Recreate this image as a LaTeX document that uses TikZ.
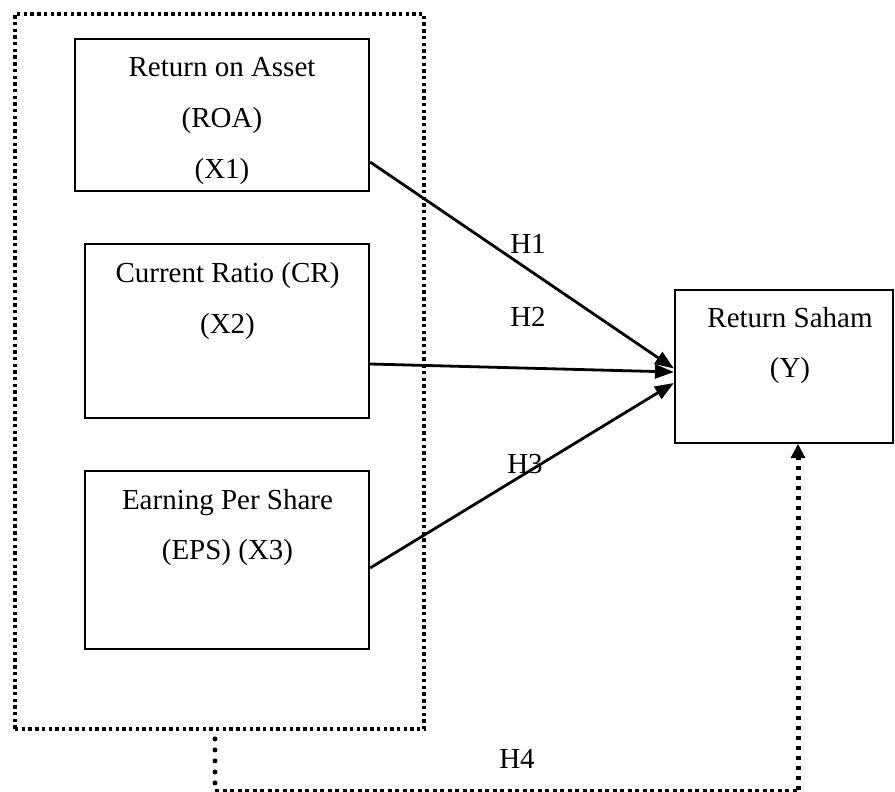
\documentclass[tikz,border=0pt]{standalone}
\usepackage{fontspec}
\setmainfont{Liberation Serif}
\usetikzlibrary{arrows.meta}
\begin{document}
\begin{tikzpicture}[x=1pt,y=-1pt,
  varbox/.style={draw=black,line width=2.2pt,inner sep=0pt,rectangle},
  lbl/.style={anchor=base,inner sep=0pt,font=\fontsize{29}{35}\selectfont},
  hyparrow/.style={line width=2.8pt,-{Triangle[length=19pt,width=14pt]}},
  groupbox/.style={draw=black,line width=3.8pt,dash pattern=on 3.4pt off 3.3pt,inner sep=0pt,rectangle},
  rounddots/.style={line width=5pt,line cap=round,dash pattern=on 0pt off 11pt},
  smalldash/.style={line width=3pt,dash pattern=on 4pt off 3.5pt},
  bigdots/.style={line width=5pt,dash pattern=on 4.5pt off 5.5pt,-{Triangle[length=14pt,width=15pt,line width=0pt]}}
]
\useasboundingbox (0,0) rectangle (895,792);
% group box
\node[groupbox,minimum width=409pt,minimum height=715pt] (grp) at (219.5,371.5) {};
% variable boxes
\node[varbox,minimum width=294pt,minimum height=152pt] (x1) at (222,115) {};
\node[varbox,minimum width=284pt,minimum height=174pt] (x2) at (227,331) {};
\node[varbox,minimum width=284pt,minimum height=178pt] (x3) at (227,560) {};
\node[varbox,minimum width=218pt,minimum height=153pt] (y) at (784,366.5) {};
% texts
\node[lbl] (x1a) at (222,77) {Return on Asset};
\node[lbl] (x1b) at (222,127.5) {(ROA)};
\node[lbl] (x1c) at (222,178) {(X1)};
\node[lbl] (x2a) at (227.5,282) {Current Ratio (CR)};
\node[lbl] (x2b) at (227.5,333) {(X2)};
\node[lbl] (x3a) at (227.5,509) {Earning Per Share};
\node[lbl] (x3b) at (227.5,559) {(EPS) (X3)};
\node[lbl] (ya) at (790,327) {Return Saham};
\node[lbl] (yb) at (790,377) {(Y)};
% arrows
\draw[hyparrow] ([yshift=-47pt]x1.east) -- ([yshift=-2pt]y.west);
\draw[hyparrow] ([yshift=-33pt]x2.east) -- ([yshift=-5.5pt]y.west);
\draw[hyparrow] ([yshift=-8pt]x3.east) -- ([yshift=-16.5pt]y.west);
% hypothesis labels
\node[lbl] (h1) at (528,253) {H1};
\node[lbl] (h2) at (528,326) {H2};
\node[lbl] (h3) at (525,473) {H3};
\node[lbl] (h4) at (517,768) {H4};
% H4 connector
\coordinate (h4a) at (215,790);
\coordinate (h4b) at (798,790);
\draw[rounddots] ([xshift=-4.5pt,yshift=-8pt]grp.south) -- (h4a);
\draw[smalldash] (h4a) -- (h4b);
\draw[bigdots] (h4b) -- ([xshift=14pt]y.south);
\end{tikzpicture}
\end{document}
